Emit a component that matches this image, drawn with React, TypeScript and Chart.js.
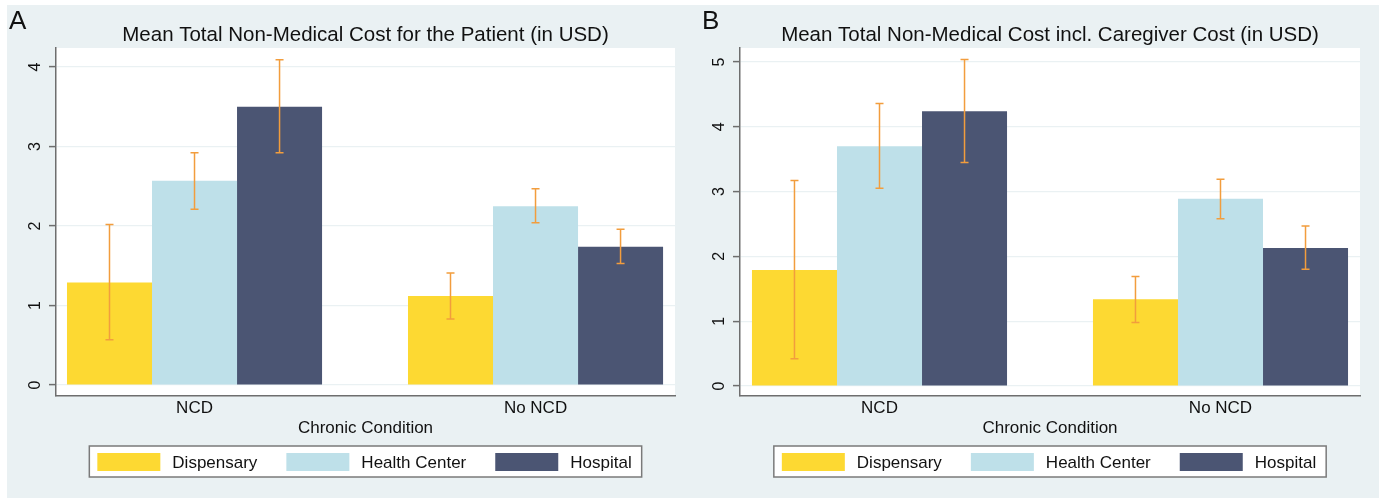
import React, { useEffect, useRef } from 'react';
import { Chart, registerables } from 'chart.js';

Chart.register(...registerables);

// ---------- data ----------
const categories = ['NCD', 'No NCD'];
const facilityNames = ['Dispensary', 'Health Center', 'Hospital'];
const facilityColors = ['#fdd932', '#bee0e9', '#4b5573'];

// Panel A: Mean Total Non-Medical Cost for the Patient (USD)
const patientDispensary = [1.29, 1.12];
const patientHealthCenter = [2.57, 2.25];
const patientHospital = [3.5, 1.74];
const patientDispensaryLow = [0.57, 0.83];
const patientDispensaryHigh = [2.02, 1.41];
const patientHealthCenterLow = [2.21, 2.04];
const patientHealthCenterHigh = [2.92, 2.47];
const patientHospitalLow = [2.92, 1.53];
const patientHospitalHigh = [4.09, 1.96];
const patientTicks = [0, 1, 2, 3, 4];

// Panel B: Mean Total Non-Medical Cost incl. Caregiver Cost (USD)
const caregiverDispensary = [1.79, 1.34];
const caregiverHealthCenter = [3.7, 2.89];
const caregiverHospital = [4.24, 2.13];
const caregiverDispensaryLow = [0.42, 0.98];
const caregiverDispensaryHigh = [3.17, 1.69];
const caregiverHealthCenterLow = [3.05, 2.58];
const caregiverHealthCenterHigh = [4.36, 3.19];
const caregiverHospitalLow = [3.45, 1.8];
const caregiverHospitalHigh = [5.04, 2.47];
const caregiverTicks = [0, 1, 2, 3, 4, 5];

// ---------- style ----------
const FONT = '"Liberation Sans", Arial, Helvetica, sans-serif';
const BG = '#eaf1f3';
const AXIS = '#6e6e6e';
const TEXT = '#111111';
const ERR = '#f29d3d';

const decorPlugin = {
  id: 'stataDecor',
  beforeDraw(chart: any, _args: any, opts: any) {
    const { ctx, chartArea: a } = chart;
    ctx.save();
    ctx.fillStyle = '#ffffff';
    ctx.fillRect(a.left, a.top, a.right - a.left, a.bottom - a.top);
    ctx.restore();
  },
  afterDatasetsDraw(chart: any, _args: any, opts: any) {
    const { ctx } = chart;
    const ys = chart.scales.y;
    ctx.save();
    ctx.strokeStyle = ERR;
    ctx.lineWidth = 1.5;
    chart.data.datasets.forEach((_ds: any, di: number) => {
      const meta = chart.getDatasetMeta(di);
      const lows = opts.lows[di];
      const highs = opts.highs[di];
      meta.data.forEach((bar: any, i: number) => {
        const x = bar.x;
        const y1 = ys.getPixelForValue(lows[i]);
        const y2 = ys.getPixelForValue(highs[i]);
        ctx.beginPath();
        ctx.moveTo(x, y1);
        ctx.lineTo(x, y2);
        ctx.moveTo(x - 4, y1);
        ctx.lineTo(x + 4, y1);
        ctx.moveTo(x - 4, y2);
        ctx.lineTo(x + 4, y2);
        ctx.stroke();
      });
    });
    ctx.restore();
  },
  afterDraw(chart: any, _args: any, opts: any) {
    const { ctx, chartArea: a } = chart;
    const ys = chart.scales.y;
    const cx = (a.left + a.right) / 2;
    ctx.save();
    ctx.fillStyle = TEXT;

    // panel letter
    ctx.font = `26px ${FONT}`;
    ctx.textAlign = 'left';
    ctx.textBaseline = 'alphabetic';
    ctx.fillText(opts.letter, opts.letterX, 24);

    // title
    ctx.font = `20.5px ${FONT}`;
    ctx.textAlign = 'center';
    ctx.fillText(opts.title, cx, a.top - 7);

    // y tick labels (rotated)
    ctx.font = `16px ${FONT}`;
    ys.ticks.forEach((t: any) => {
      const py = ys.getPixelForValue(t.value);
      ctx.save();
      ctx.translate(ys.right - 20.5, py);
      ctx.rotate(-Math.PI / 2);
      ctx.textAlign = 'center';
      ctx.textBaseline = 'middle';
      ctx.fillText(String(t.value), 0, 0);
      ctx.restore();
    });

    // x axis title
    ctx.font = `17px ${FONT}`;
    ctx.textAlign = 'center';
    ctx.textBaseline = 'alphabetic';
    ctx.fillText(opts.xTitle, cx, a.bottom + 37);

    // legend
    ctx.font = `17px ${FONT}`;
    const sw = 63;
    const sh = 18;
    const gapText = 12;
    const gapItem = 29;
    const padL = 8;
    const padR = 10;
    const names: string[] = chart.data.datasets.map((d: any) => d.label);
    const widths = names.map((n) => ctx.measureText(n).width);
    const total =
      padL + padR + widths.reduce((s, w) => s + w + sw + gapText, 0) + gapItem * (names.length - 1);
    const bx = cx - total / 2;
    const by = a.bottom + 50;
    const bh = 31;
    ctx.fillStyle = '#ffffff';
    ctx.fillRect(bx, by, total, bh);
    ctx.strokeStyle = '#7a7a7a';
    ctx.lineWidth = 1.5;
    ctx.strokeRect(bx, by, total, bh);
    let x = bx + padL;
    names.forEach((n, i) => {
      ctx.fillStyle = chart.data.datasets[i].backgroundColor;
      ctx.fillRect(x, by + 7, sw, sh);
      x += sw + gapText;
      ctx.fillStyle = TEXT;
      ctx.textAlign = 'left';
      ctx.textBaseline = 'middle';
      ctx.fillText(n, x, by + 7 + sh / 2 + 1);
      x += widths[i] + gapItem;
    });
    ctx.restore();
  },
};

type PanelProps = {
  left: number;
  width: number;
  height: number;
  letter: string;
  letterX: number;
  title: string;
  series: number[][];
  lows: number[][];
  highs: number[][];
  ticks: number[];
  yMin: number;
  yMax: number;
  xMin: number;
  xMax: number;
  rightPad: number;
};

function Panel(p: PanelProps) {
  const ref = useRef<HTMLCanvasElement | null>(null);
  useEffect(() => {
    if (!ref.current) return;
    const chart = new Chart(ref.current, {
      type: 'bar',
      data: {
        datasets: facilityNames.map((name, di) => ({
          label: name,
          data: p.series[di].map((v, i) => ({ x: i, y: v })),
          backgroundColor: facilityColors[di],
          borderWidth: 0,
          barPercentage: 1,
          categoryPercentage: 0.748,
        })),
      },
      options: {
        animation: false,
        responsive: false,
        maintainAspectRatio: false,
        devicePixelRatio: 1,
        layout: { padding: { left: 0, right: p.rightPad, top: 43, bottom: 0 } },
        scales: {
          x: {
            type: 'linear',
            min: p.xMin,
            max: p.xMax,
            offset: false,
            afterBuildTicks: (s: any) => {
              s.ticks = categories.map((_c, i) => ({ value: i }));
            },
            afterFit: (s: any) => {
              s.height = 102;
            },
            ticks: {
              callback: (v: any) => categories[v] ?? '',
              font: { family: FONT, size: 17 },
              color: TEXT,
              padding: 2,
              autoSkip: false,
              maxRotation: 0,
              minRotation: 0,
            },
            grid: { display: false, drawTicks: false },
            border: { display: true, color: AXIS, width: 1.5 },
          },
          y: {
            type: 'linear',
            min: p.yMin,
            max: p.yMax,
            afterBuildTicks: (s: any) => {
              s.ticks = p.ticks.map((v) => ({ value: v }));
            },
            afterFit: (s: any) => {
              s.width = 49;
            },
            ticks: { display: false },
            grid: {
              color: BG,
              lineWidth: 1.2,
              drawTicks: true,
              tickLength: 7,
              tickColor: AXIS,
              tickWidth: 1.5,
            },
            border: { display: true, color: AXIS, width: 1.5 },
          },
        },
        plugins: {
          legend: { display: false },
          title: { display: false },
          tooltip: { enabled: false },
          stataDecor: {
            letter: p.letter,
            letterX: p.letterX,
            title: p.title,
            xTitle: 'Chronic Condition',
            lows: p.lows,
            highs: p.highs,
          },
        } as any,
      },
      plugins: [decorPlugin],
    } as any);
    return () => chart.destroy();
  }, []);
  return (
    <canvas
      ref={ref}
      width={p.width}
      height={p.height}
      style={{ position: 'absolute', left: p.left, top: 5, width: p.width, height: p.height }}
    />
  );
}

export default function App() {
  return (
    <div
      style={{
        position: 'absolute',
        left: 0,
        top: 0,
        width: 1379,
        height: 498,
        background: '#ffffff',
        overflow: 'hidden',
      }}
    >
      <div style={{ position: 'absolute', left: 7, top: 5, width: 1372, height: 493, background: BG }} />
      <Panel
        left={7}
        width={684}
        height={493}
        letter="A"
        letterX={2}
        title="Mean Total Non-Medical Cost for the Patient (in USD)"
        series={[patientDispensary, patientHealthCenter, patientHospital]}
        lows={[patientDispensaryLow, patientHealthCenterLow, patientHospitalLow]}
        highs={[patientDispensaryHigh, patientHealthCenterHigh, patientHospitalHigh]}
        ticks={patientTicks}
        yMin={-0.138}
        yMax={4.239}
        xMin={-0.4062}
        xMax={1.409}
        rightPad={16}
      />
      <Panel
        left={691}
        width={687}
        height={493}
        letter="B"
        letterX={11}
        title="Mean Total Non-Medical Cost incl. Caregiver Cost (in USD)"
        series={[caregiverDispensary, caregiverHealthCenter, caregiverHospital]}
        lows={[caregiverDispensaryLow, caregiverHealthCenterLow, caregiverHospitalLow]}
        highs={[caregiverDispensaryHigh, caregiverHealthCenterHigh, caregiverHospitalHigh]}
        ticks={caregiverTicks}
        yMin={-0.154}
        yMax={5.216}
        xMin={-0.4091}
        xMax={1.4091}
        rightPad={18}
      />
    </div>
  );
}
